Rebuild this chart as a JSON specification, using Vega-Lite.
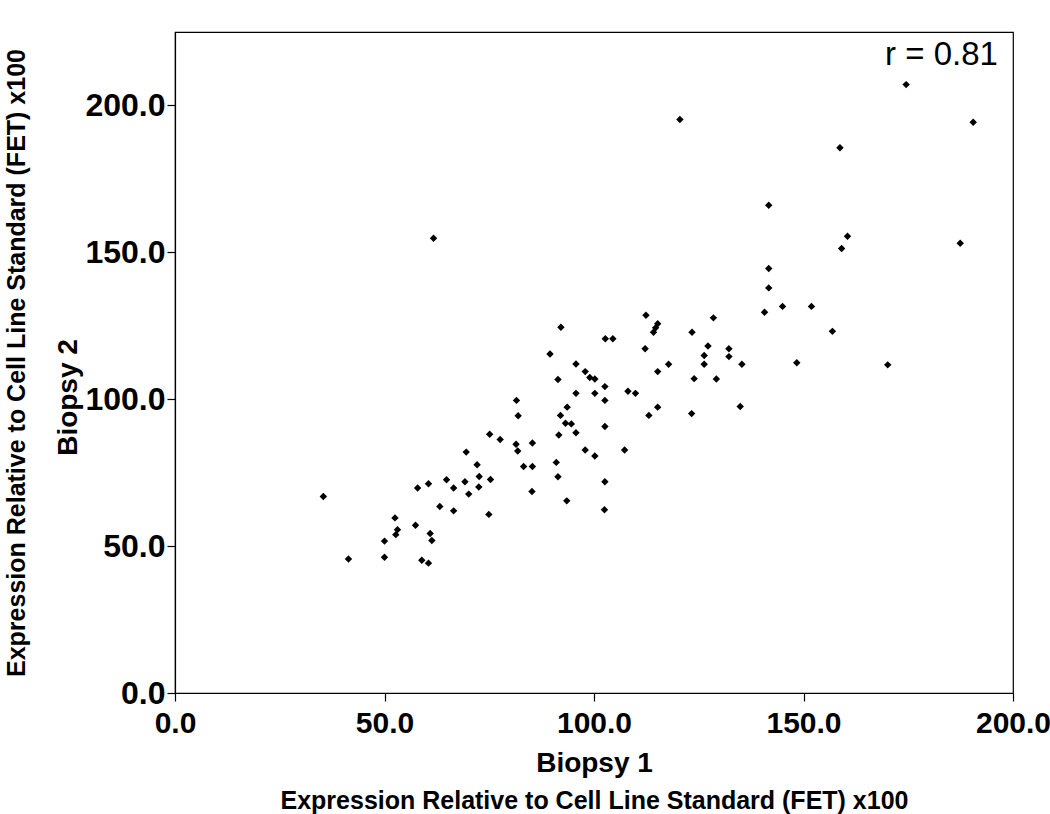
{
  "$schema": "https://vega.github.io/schema/vega-lite/v6.json",
  "width": 838,
  "height": 661,
  "autosize": {"type": "none"},
  "padding": {"left": 175, "top": 32, "right": 37, "bottom": 121},
  "background": "white",
  "config": {
    "view": {"stroke": "black", "strokeWidth": 1.2},
    "axis": {
      "grid": false,
      "domainColor": "black",
      "domainWidth": 1.2,
      "tickColor": "black",
      "tickWidth": 1.2,
      "tickSize": 8,
      "labelColor": "black",
      "titleColor": "black",
      "labelFont": "Liberation Sans",
      "titleFont": "Liberation Sans",
      "labelFontWeight": "bold",
      "titleFontWeight": "bold",
      "labelOverlap": false,
      "labelFlush": false
    }
  },
  "resolve": {"axis": {"x": "independent", "y": "independent"}},
  "layer": [
    {
      "data": {
        "values": [
          {"biopsy1": 35.4, "biopsy2": 66.9}, {"biopsy1": 41.4, "biopsy2": 45.6}, {"biopsy1": 50.0, "biopsy2": 46.2}, {"biopsy1": 50.0, "biopsy2": 51.7},
          {"biopsy1": 52.5, "biopsy2": 59.6}, {"biopsy1": 53.1, "biopsy2": 55.6}, {"biopsy1": 52.7, "biopsy2": 53.9}, {"biopsy1": 57.4, "biopsy2": 57.1},
          {"biopsy1": 57.9, "biopsy2": 69.8}, {"biopsy1": 60.5, "biopsy2": 71.2}, {"biopsy1": 60.9, "biopsy2": 54.3}, {"biopsy1": 61.3, "biopsy2": 51.9},
          {"biopsy1": 58.9, "biopsy2": 45.2}, {"biopsy1": 60.5, "biopsy2": 44.2}, {"biopsy1": 63.2, "biopsy2": 63.5}, {"biopsy1": 64.8, "biopsy2": 72.6},
          {"biopsy1": 66.5, "biopsy2": 69.8}, {"biopsy1": 66.5, "biopsy2": 62.0}, {"biopsy1": 69.2, "biopsy2": 71.9}, {"biopsy1": 70.1, "biopsy2": 67.7},
          {"biopsy1": 69.5, "biopsy2": 82.0}, {"biopsy1": 72.1, "biopsy2": 77.7}, {"biopsy1": 72.6, "biopsy2": 73.7}, {"biopsy1": 72.5, "biopsy2": 70.1},
          {"biopsy1": 75.3, "biopsy2": 72.7}, {"biopsy1": 74.9, "biopsy2": 60.8}, {"biopsy1": 75.1, "biopsy2": 88.1}, {"biopsy1": 77.6, "biopsy2": 86.3},
          {"biopsy1": 112.4, "biopsy2": 128.6}, {"biopsy1": 115.2, "biopsy2": 125.7}, {"biopsy1": 114.7, "biopsy2": 124.3}, {"biopsy1": 114.2, "biopsy2": 122.8},
          {"biopsy1": 123.4, "biopsy2": 122.8}, {"biopsy1": 92.1, "biopsy2": 124.5}, {"biopsy1": 102.7, "biopsy2": 120.6}, {"biopsy1": 104.5, "biopsy2": 120.6},
          {"biopsy1": 112.2, "biopsy2": 117.2}, {"biopsy1": 89.5, "biopsy2": 115.4}, {"biopsy1": 95.7, "biopsy2": 112.0}, {"biopsy1": 117.8, "biopsy2": 111.9},
          {"biopsy1": 97.9, "biopsy2": 109.4}, {"biopsy1": 99.0, "biopsy2": 107.4}, {"biopsy1": 100.2, "biopsy2": 106.9}, {"biopsy1": 115.2, "biopsy2": 109.4},
          {"biopsy1": 123.9, "biopsy2": 107.0}, {"biopsy1": 91.4, "biopsy2": 106.7}, {"biopsy1": 102.6, "biopsy2": 104.3}, {"biopsy1": 95.7, "biopsy2": 102.0},
          {"biopsy1": 100.2, "biopsy2": 102.0}, {"biopsy1": 108.1, "biopsy2": 102.7}, {"biopsy1": 109.9, "biopsy2": 102.0}, {"biopsy1": 102.6, "biopsy2": 99.6},
          {"biopsy1": 81.5, "biopsy2": 99.6}, {"biopsy1": 81.9, "biopsy2": 94.4}, {"biopsy1": 93.6, "biopsy2": 97.3}, {"biopsy1": 92.0, "biopsy2": 94.5},
          {"biopsy1": 115.2, "biopsy2": 97.3}, {"biopsy1": 113.1, "biopsy2": 94.5}, {"biopsy1": 123.3, "biopsy2": 95.1}, {"biopsy1": 93.2, "biopsy2": 91.8},
          {"biopsy1": 94.6, "biopsy2": 91.6}, {"biopsy1": 102.6, "biopsy2": 90.7}, {"biopsy1": 95.7, "biopsy2": 88.6}, {"biopsy1": 91.6, "biopsy2": 87.8},
          {"biopsy1": 81.4, "biopsy2": 84.7}, {"biopsy1": 81.8, "biopsy2": 82.4}, {"biopsy1": 85.3, "biopsy2": 85.1}, {"biopsy1": 97.9, "biopsy2": 82.7},
          {"biopsy1": 100.2, "biopsy2": 80.7}, {"biopsy1": 107.3, "biopsy2": 82.7}, {"biopsy1": 91.0, "biopsy2": 78.5}, {"biopsy1": 83.2, "biopsy2": 77.1},
          {"biopsy1": 85.3, "biopsy2": 77.1}, {"biopsy1": 91.4, "biopsy2": 73.6}, {"biopsy1": 102.6, "biopsy2": 71.9}, {"biopsy1": 85.2, "biopsy2": 68.6},
          {"biopsy1": 93.5, "biopsy2": 65.4}, {"biopsy1": 102.5, "biopsy2": 62.4}, {"biopsy1": 140.7, "biopsy2": 129.6}, {"biopsy1": 145.0, "biopsy2": 131.6},
          {"biopsy1": 151.9, "biopsy2": 131.6}, {"biopsy1": 128.5, "biopsy2": 127.7}, {"biopsy1": 156.9, "biopsy2": 123.1}, {"biopsy1": 127.2, "biopsy2": 118.1},
          {"biopsy1": 132.2, "biopsy2": 117.2}, {"biopsy1": 132.2, "biopsy2": 114.5}, {"biopsy1": 126.3, "biopsy2": 114.9}, {"biopsy1": 126.3, "biopsy2": 111.9},
          {"biopsy1": 135.3, "biopsy2": 111.9}, {"biopsy1": 148.4, "biopsy2": 112.4}, {"biopsy1": 129.2, "biopsy2": 106.9}, {"biopsy1": 134.9, "biopsy2": 97.5},
          {"biopsy1": 160.5, "biopsy2": 155.5}, {"biopsy1": 159.1, "biopsy2": 151.3}, {"biopsy1": 187.4, "biopsy2": 153.1}, {"biopsy1": 170.1, "biopsy2": 111.7},
          {"biopsy1": 174.5, "biopsy2": 207.1}, {"biopsy1": 120.5, "biopsy2": 195.2}, {"biopsy1": 190.5, "biopsy2": 194.3}, {"biopsy1": 158.7, "biopsy2": 185.6},
          {"biopsy1": 141.7, "biopsy2": 166.0}, {"biopsy1": 141.7, "biopsy2": 144.5}, {"biopsy1": 141.7, "biopsy2": 137.9}, {"biopsy1": 61.7, "biopsy2": 154.8}
        ]
      },
      "mark": {"type": "point", "shape": "diamond", "filled": true, "color": "black", "opacity": 1, "size": 55},
      "encoding": {
        "x": {
          "field": "biopsy1", "type": "quantitative",
          "scale": {"domain": [0, 200], "nice": false},
          "axis": {"values": [0, 50, 100, 150, 200], "format": ".1f", "labelFontSize": 30, "labelPadding": 7, "title": "Biopsy 1", "titleFontSize": 28, "titlePadding": 11}
        },
        "y": {
          "field": "biopsy2", "type": "quantitative",
          "scale": {"domain": [0, 225], "nice": false},
          "axis": {"values": [0, 50, 100, 150, 200], "format": ".1f", "labelFontSize": 32, "labelPadding": 2, "title": "Biopsy 2", "titleFontSize": 28, "titlePadding": 2, "titleY": 365}
        }
      }
    },
    {
      "data": {"values": [{"biopsy1": 196.4, "biopsy2": 213.6, "label": "r = 0.81"}]},
      "mark": {"type": "text", "align": "right", "baseline": "alphabetic", "fontSize": 33, "font": "Liberation Sans", "color": "black"},
      "encoding": {
        "x": {
          "field": "biopsy1", "type": "quantitative",
          "scale": {"domain": [0, 200], "nice": false},
          "axis": {"orient": "bottom", "domain": false, "ticks": false, "labels": false, "offset": 93, "title": "Expression Relative to Cell Line Standard (FET) x100", "titleFontSize": 25, "titlePadding": 2}
        },
        "y": {
          "field": "biopsy2", "type": "quantitative",
          "scale": {"domain": [0, 225], "nice": false},
          "axis": {"orient": "left", "domain": false, "ticks": false, "labels": false, "offset": 144, "title": "Expression Relative to Cell Line Standard (FET) x100", "titleFontSize": 25, "titlePadding": 2}
        },
        "text": {"field": "label"}
      }
    }
  ]
}
